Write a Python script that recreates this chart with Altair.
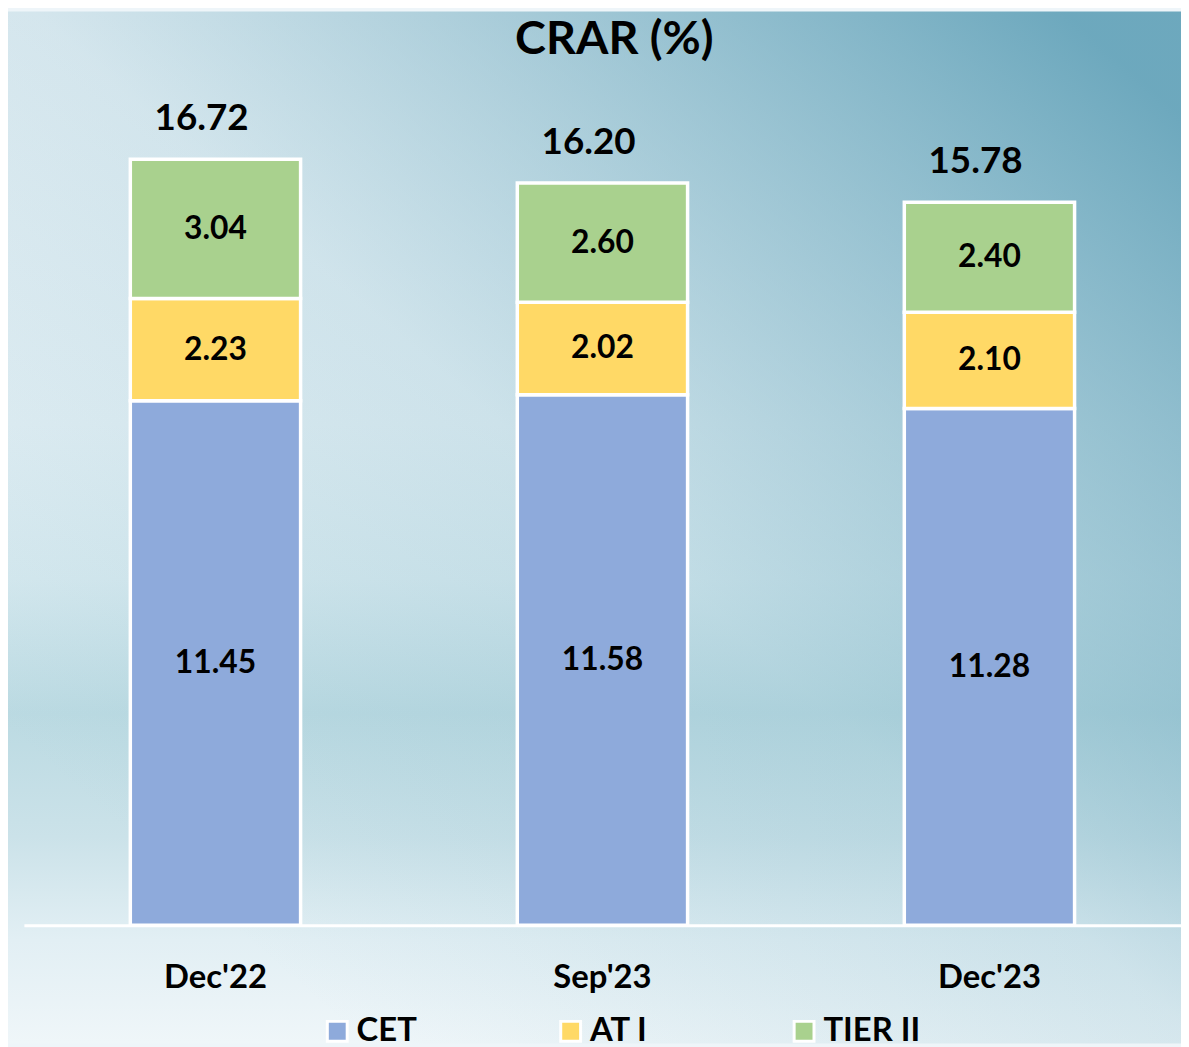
import altair as alt
import pandas as pd

# ---- data ----
periods = ["Dec'22", "Sep'23", "Dec'23"]
components = ["CET", "AT I", "TIER II"]
cet = [11.45, 11.58, 11.28]
at1 = [2.23, 2.02, 2.10]
tier2 = [3.04, 2.60, 2.40]
totals = [16.72, 16.20, 15.78]
colors = ["#8EAADB", "#FFD966", "#A9D18E"]

rows = []
for i, p in enumerate(periods):
    for j, (c, vals) in enumerate(zip(components, [cet, at1, tier2])):
        rows.append({"period": p, "component": c, "value": vals[i], "order": j})
df = pd.DataFrame(rows)
tot_df = pd.DataFrame({"period": periods, "total": totals})

# ---- layout ----
W, H = 1165, 858
PL, PT, PB = 16, 62, 119
FONT = "Lato"

x_enc = alt.X(
    "period:N", sort=periods, title=None,
    scale=alt.Scale(paddingInner=0.56, paddingOuter=0.275),
    axis=alt.Axis(labelAngle=0, labelFont=FONT, labelFontSize=33, labelFontWeight="bold",
                  labelColor="black", labelPadding=37, ticks=False, domainColor="white",
                  domainWidth=3, domainOpacity=1, grid=False, zindex=2),
)
y_scale = alt.Scale(domain=[0, 18.6], nice=False, zero=True)

bg_grad = {
    "gradient": "linear", "x1": 0, "y1": 0, "x2": 0, "y2": 1,
    "stops": [
        {"offset": 0.0, "color": "#eef5f9"},
        {"offset": 0.40, "color": "#e4f0f5"},
        {"offset": 0.55, "color": "#d6e9ef"},
        {"offset": 0.68, "color": "#bbdae2"},
        {"offset": 0.80, "color": "#cbe2e9"},
        {"offset": 0.90, "color": "#e2eff4"},
        {"offset": 1.0, "color": "#eff6f9"},
    ],
}
ov_grad = {
    "gradient": "linear", "x1": 0.2, "y1": 0.9, "x2": 1, "y2": 0.1,
    "stops": [
        {"offset": 0.0, "color": "rgba(110,170,190,0)"},
        {"offset": 0.45, "color": "rgba(110,170,190,0.2)"},
        {"offset": 1.0, "color": "rgba(95,160,183,0.9)"},
    ],
}

bgdata = pd.DataFrame({"bg": [0]})
bg = alt.Chart(bgdata).mark_rect(color=bg_grad).encode(
    x=alt.value(-PL), x2=alt.value(W), y=alt.value(-PT), y2=alt.value(H + PB)
)
ov = alt.Chart(bgdata).mark_rect(color=ov_grad).encode(
    x=alt.value(-PL), x2=alt.value(W), y=alt.value(-PT), y2=alt.value(H + PB)
)

bars = alt.Chart(df).mark_bar(stroke="white", strokeWidth=3.5, opacity=1).encode(
    x=x_enc,
    y=alt.Y("value:Q", stack="zero", scale=y_scale, axis=None),
    order=alt.Order("order:Q"),
    color=alt.Color(
        "component:N",
        scale=alt.Scale(domain=components, range=colors),
        legend=alt.Legend(
            title=None, orient="none", legendX=299, legendY=948, direction="horizontal",
            columns=3, gridAlign="all", columnPadding=101, symbolType="square",
            symbolSize=400, symbolStrokeColor="white", symbolStrokeWidth=3, symbolOpacity=1,
            labelFont=FONT, labelFontSize=33, labelFontWeight="bold", labelColor="black",
            labelOffset=3, labelLimit=0, padding=0,
        ),
    ),
)

seg_labels = alt.Chart(df).transform_stack(
    stack="value", as_=["y0", "y1"], groupby=["period"], sort=[alt.SortField("order")]
).transform_calculate(mid="(datum.y0 + datum.y1) / 2").mark_text(
    font=FONT, fontSize=32, fontWeight="bold", color="black", baseline="middle"
).encode(
    x=x_enc,
    y=alt.Y("mid:Q", scale=y_scale, axis=None),
    text=alt.Text("value:Q", format=".2f"),
)

tot_labels = alt.Chart(tot_df).mark_text(
    font=FONT, fontSize=37, fontWeight="bold", color="black", baseline="middle", dy=-40, dx=-14
).encode(
    x=x_enc,
    y=alt.Y("total:Q", scale=y_scale, axis=None),
    text=alt.Text("total:Q", format=".2f"),
)

chart = alt.layer(bg, ov, bars, seg_labels, tot_labels).properties(
    width=W, height=H,
    padding={"left": PL, "top": PT, "right": 0, "bottom": PB},
    autosize="none",
    background="#eef5f9",
    title=alt.Title("CRAR (%)", fontSize=47, font=FONT, fontWeight="bold", anchor="middle",
                    frame="group", offset=-53, color="black", dx=12),
).configure_view(stroke=None)

chart.save("out.html", embed_options={"renderer": "svg", "actions": False})
